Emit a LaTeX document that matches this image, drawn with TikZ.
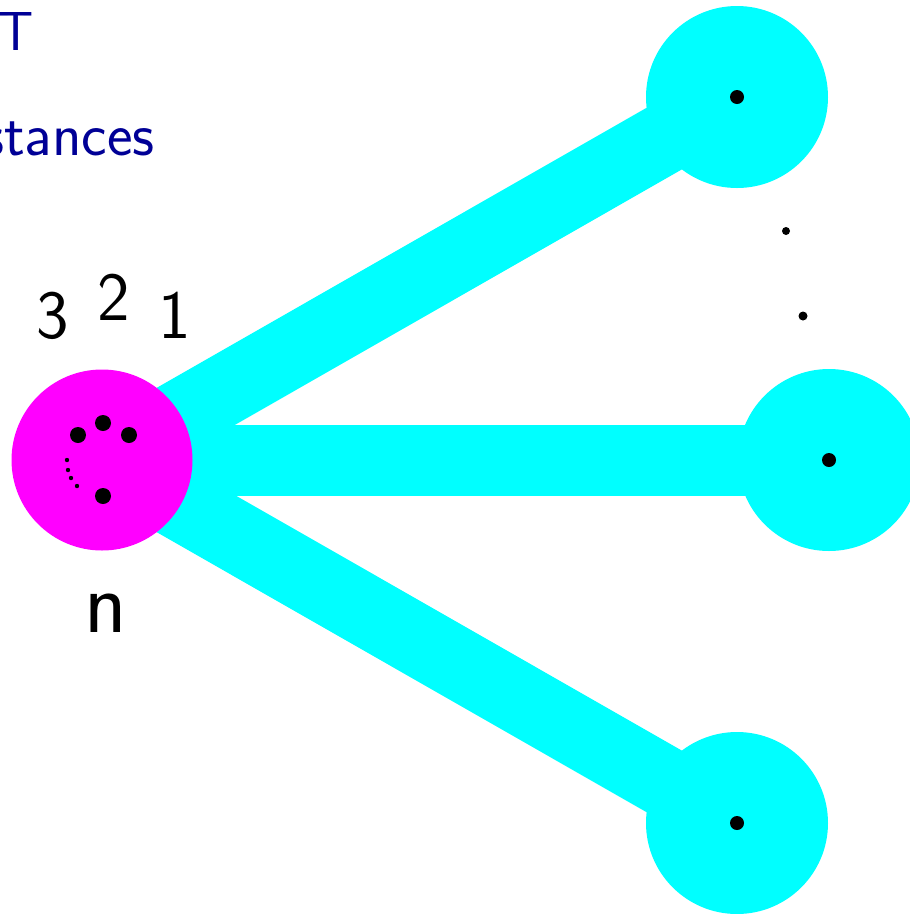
\documentclass[tikz,border=0pt]{standalone}
\definecolor{navyt}{RGB}{0,0,150}
\definecolor{cyanr}{RGB}{0,255,255}
\definecolor{magr}{RGB}{255,0,255}
\begin{document}
\begin{tikzpicture}[x=1pt,y=-1pt,
  edge/.style={line width=71pt,cyanr},
  hub/.style={circle,fill=magr,minimum size=181pt,inner sep=0pt},
  leaf/.style={circle,fill=cyanr,minimum size=182pt,inner sep=0pt},
  lbl/.style={anchor=base,font=\sffamily\fontsize{69}{80}\selectfont},
  ttl/.style={anchor=base east,text=navyt,inner sep=0pt}]
\useasboundingbox (0,0) rectangle (910,914);
\coordinate (hc) at (102,460);
\coordinate (ac) at (737,97);
\coordinate (bc) at (829,460);
\coordinate (cc) at (737,823);
\draw[edge] (hc) -- (ac);
\draw[edge] (hc) -- (bc);
\draw[edge] (hc) -- (cc);
\node[hub] (h) at (hc) {};
\node[leaf] (a) at (ac) {};
\node[leaf] (b) at (bc) {};
\node[leaf] (c) at (cc) {};
\fill (ac) circle (7);
\fill (bc) circle (7);
\fill (cc) circle (7);
\fill (78,435) circle (8);
\fill (103,423) circle (8);
\fill (129,435) circle (8);
\fill (103,496) circle (8);
\fill (67,460) circle (2.2);
\fill (68,470) circle (2.2);
\fill (71,478) circle (2.2);
\fill (77,486) circle (2.2);
\fill (786,231) circle (4);
\fill (803,316) circle (4.5);
\node[lbl] (l3) at (53,338) {3};
\node[lbl] (l2) at (114,320) {2};
\node[lbl] (l1) at (175,338) {1};
\node[lbl,font=\sffamily\fontsize{88}{100}\selectfont] (ln) at (106,632) {n};
\node[ttl,font=\sffamily\fontsize{55}{66}\selectfont] (t1) at (34,50) {T};
\node[ttl,font=\sffamily\fontsize{61}{72}\selectfont] (t2) at (155,155) {stances};
\end{tikzpicture}
\end{document}
